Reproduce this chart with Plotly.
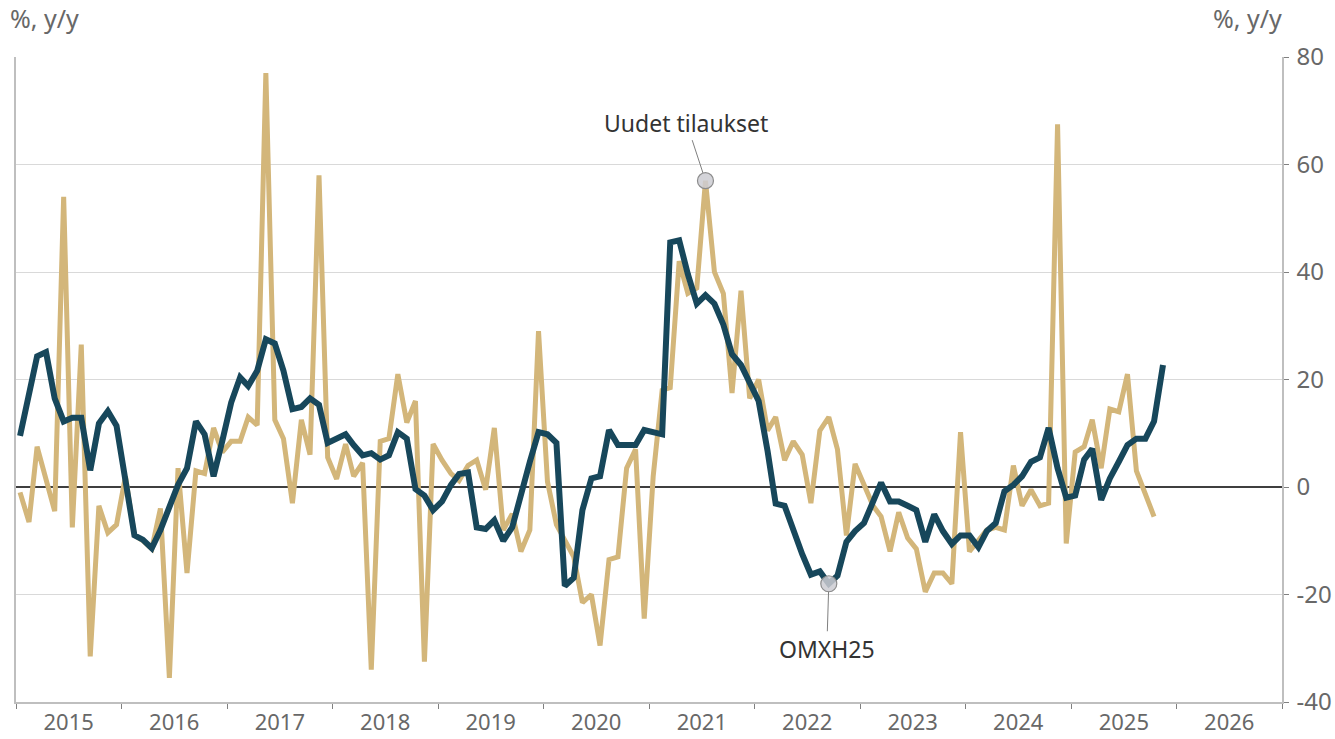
import pandas as pd
import plotly.graph_objects as go

# Monthly data, Jan 2015 onwards (% y/y)
new_orders = [
    -1, -6.5, 7.5, 1, -4.5, 54, -7.5, 26.5, -31.5, -3.5, -8.5, -7,          # 2015
    2, -9, -10, -11.5, -4, -35.5, 3.5, -16, 3, 2.5, 11, 6.5,                # 2016
    8.5, 8.5, 13, 11.5, 77, 12.5, 9, -3, 12.5, 6, 58, 5.5,                  # 2017
    1.5, 8, 2, 4.5, -34, 8.5, 9, 21, 12, 16, -32.5, 8,                      # 2018
    5, 2.5, 1.2, 4, 5, -0.5, 11, -8, -5, -12, -8, 29,                       # 2019
    1, -7, -10, -13, -21.5, -20, -29.5, -13.5, -13, 3.5, 7, -24.5,          # 2020
    2, 18, 18.5, 42, 36, 37, 57, 40, 36, 17.5, 36.5, 16.5,                  # 2021
    20, 10.5, 13, 5, 8.5, 6, -3, 10.5, 13, 7, -9, 4.3,                      # 2022
    0.4, -3.5, -5.5, -12, -4.7, -9.5, -11.5, -19.5, -16, -16, -18, 10.2,    # 2023
    -12, -10, -8, -7.5, -8, 4, -3.5, -0.5, -3.5, -3, 67.5, -10.5,           # 2024
    6.5, 7.5, 12.5, 3.5, 14.5, 14, 21, 3, -1.5, -5.5,                       # 2025
]
omxh25 = [
    9.5, 17, 24.3, 25.1, 16.5, 12.2, 12.9, 12.9, 3.1, 11.8, 14.1, 11.4,     # 2015
    1, -9, -9.8, -11.4, -8, -4, 0.4, 3.5, 12.2, 9.8, 2, 8.5,                # 2016
    15.7, 20.4, 18.8, 21.6, 27.5, 26.7, 21.6, 14.5, 14.9, 16.5, 15.3, 8.2,  # 2017
    9, 9.8, 7.8, 5.9, 6.3, 5.1, 5.9, 10.2, 9, -0.4, -1.6, -4.3,             # 2018
    -2.7, 0.4, 2.4, 2.7, -7.5, -7.8, -6.2, -10, -7.5, -1.2, 4.7, 10.2,      # 2019
    9.8, 8.2, -18.4, -16.9, -4.3, 1.6, 2, 10.6, 7.8, 7.8, 7.8, 10.6,        # 2020
    10.2, 9.8, 45.5, 45.9, 39.6, 34.1, 35.7, 34.1, 30.2, 24.7, 22.7, 19.2,  # 2021
    16, 6.7, -3.1, -3.5, -8.2, -12.5, -16.3, -15.7, -18, -16.5, -10.2, -8.2,  # 2022
    -6.7, -2.7, 0.8, -2.7, -2.7, -3.5, -4.3, -10.2, -5.1, -8.2, -10.6, -9,  # 2023
    -9, -11.2, -8.2, -6.7, -0.8, 0.4, 2, 4.7, 5.5, 11, 3.5, -2,             # 2024
    -1.6, 5.1, 7.1, -2.4, 1.6, 4.7, 7.8, 9, 9, 12.2, 22.7,                  # 2025
]
series_names = ["Uudet tilaukset", "OMXH25"]
axis_title = "%, y/y"
y_ticks = [-40, -20, 0, 20, 40, 60, 80]
y_ticktext = [str(v) for v in y_ticks]
highlight_orders_idx = 78   # Jul 2021
highlight_omx_idx = 92      # Sep 2022

start = pd.Timestamp("2015-01-01")
dates_orders = pd.date_range(start, periods=len(new_orders), freq="MS") + pd.Timedelta(days=14)
dates_omx = pd.date_range(start, periods=len(omxh25), freq="MS") + pd.Timedelta(days=14)

TAN = "#D3B67A"
NAVY = "#17475B"
GRID = "#D9D9D9"
AXIS = "#BFBFBF"
LABEL = "#686868"
FONT = "Noto Sans, DejaVu Sans, sans-serif"

fig = go.Figure()
fig.add_trace(go.Scatter(x=dates_orders, y=new_orders, mode="lines",
                         line=dict(color=TAN, width=5), name=series_names[0],
                         showlegend=False))
fig.add_trace(go.Scatter(x=dates_omx, y=omxh25, mode="lines",
                         line=dict(color=NAVY, width=6), name=series_names[1],
                         showlegend=False))
# highlight markers
fig.add_trace(go.Scatter(x=[dates_orders[highlight_orders_idx]], y=[new_orders[highlight_orders_idx]],
                         mode="markers", showlegend=False,
                         marker=dict(size=16, color="rgba(205,205,210,0.85)",
                                     line=dict(color="#8C8C8C", width=1.2))))
fig.add_trace(go.Scatter(x=[dates_omx[highlight_omx_idx]], y=[omxh25[highlight_omx_idx]],
                         mode="markers", showlegend=False,
                         marker=dict(size=16, color="rgba(205,205,210,0.85)",
                                     line=dict(color="#8C8C8C", width=1.2))))

fig.add_annotation(x=dates_orders[highlight_orders_idx], y=new_orders[highlight_orders_idx],
                   text=series_names[0], showarrow=True, arrowhead=0, arrowwidth=1,
                   arrowcolor="#7F7F7F", ax=-19, ay=-58, standoff=8,
                   font=dict(family=FONT, size=23, color="#333333"))
fig.add_annotation(x=dates_omx[highlight_omx_idx], y=omxh25[highlight_omx_idx],
                   text=series_names[1], showarrow=True, arrowhead=0, arrowwidth=1,
                   arrowcolor="#7F7F7F", ax=-2, ay=65, standoff=8,
                   font=dict(family=FONT, size=23, color="#333333"))

fig.add_annotation(xref="paper", yref="paper", x=0, y=1, xanchor="left", yanchor="bottom",
                   xshift=-8, yshift=20, text=axis_title, showarrow=False,
                   font=dict(family=FONT, size=25, color=LABEL))
fig.add_annotation(xref="paper", yref="paper", x=1, y=1, xanchor="right", yanchor="bottom",
                   xshift=2, yshift=20, text=axis_title, showarrow=False,
                   font=dict(family=FONT, size=25, color=LABEL))

fig.update_layout(
    width=1335, height=739,
    margin=dict(l=16, r=53, t=57, b=37),
    paper_bgcolor="white", plot_bgcolor="white",
    font=dict(family=FONT, color=LABEL),
    xaxis=dict(type="date", range=["2015-01-01", "2027-01-01"], automargin=False,
               tick0="2015-01-01", dtick="M12", tickformat="%Y",
               ticklabelmode="period", showgrid=False, zeroline=False,
               showline=True, linecolor=AXIS, linewidth=1.5,
               ticks="outside", ticklen=5, tickcolor="#808080", tickwidth=1,
               ticklabelstandoff=-5,
               tickfont=dict(family=FONT, size=22, color=LABEL)),
    yaxis=dict(side="right", range=[-40, 80], tickvals=y_ticks, ticktext=y_ticktext,
               automargin=False,
               showgrid=True, gridcolor=GRID, gridwidth=1,
               zeroline=True, zerolinecolor="#3F3F3F", zerolinewidth=1.5,
               showline=True, linecolor=AXIS, linewidth=1.5, mirror=True,
               ticks="outside", ticklen=5, tickcolor="#808080",
               ticklabelstandoff=3,
               tickfont=dict(family=FONT, size=24, color=LABEL)),
)

fig.write_html("out.html", config={"displayModeBar": False},
               post_script="document.body.style.margin='0';document.body.style.overflow='hidden';")
